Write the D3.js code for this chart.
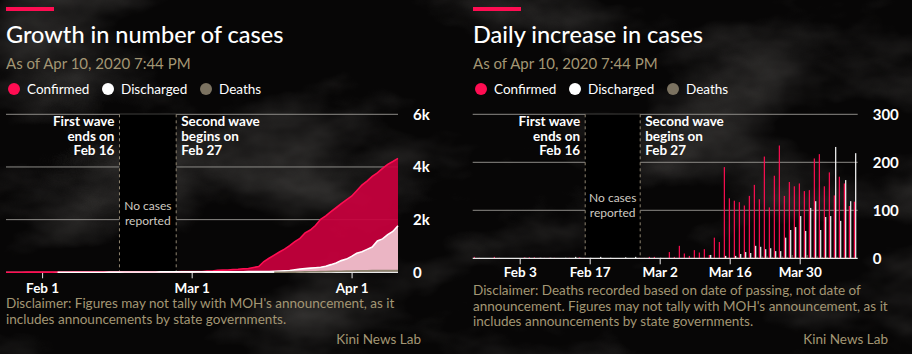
<!DOCTYPE html>
<html>
<head>
<meta charset="utf-8">
<script src="https://cdn.jsdelivr.net/npm/d3@7"></script>
<style>
  body { margin: 0; background: #0b0a09; }
  svg { display: block; font-family: Lato, "Open Sans", sans-serif; }
</style>
</head>
<body>
<svg id="chart" width="912" height="354"></svg>
<script>
// days covered by both charts: Jan 25 .. Apr 10, 2020
const days = d3.utcDay.range(new Date(Date.UTC(2020, 0, 25)), new Date(Date.UTC(2020, 3, 11)));

// daily new counts, one value per day above
const confirmedDaily = [
  3, 1, 0, 0, 3, 1, 0, 0, 0, 0, 2, 2, 2, 1, 1, 1, 1, 0, 0, 1, 0, 2, 1,
  0, 0, 0, 0, 0, 0, 0, 0, 0, 0,
  1, 1, 3, 3, 0, 0, 13, 3, 26, 10, 5, 17, 12, 19, 7, 43, 34,
  190, 125, 120, 117, 110, 130, 153, 123, 212, 106, 172, 235, 130, 159, 150, 156,
  140, 142, 208, 217, 150, 179, 131, 170, 156, 109, 118
];
const dischargedDaily = [
  0, 0, 0, 0, 0, 0, 0, 0, 0, 0, 1, 0, 0, 1, 0, 1, 0, 0, 1, 0, 3, 1, 0,
  1, 0, 3, 0, 1, 0, 0, 2, 0, 3,
  0, 0, 0, 0, 1, 0, 0, 0, 0, 0, 0, 0, 0, 0, 7, 0, 0,
  5, 0, 5, 9, 13, 11, 26, 24, 19, 21, 15, 15, 43, 59, 65, 88,
  57, 105, 119, 59, 86, 88, 232, 78, 163, 119, 219
];
const deathsDaily = [
  0, 0, 0, 0, 0, 0, 0, 0, 0, 0, 0, 0, 0, 0, 0, 0, 0, 0, 0, 0, 0, 0, 0,
  0, 0, 0, 0, 0, 0, 0, 0, 0, 0,
  0, 0, 0, 0, 0, 0, 0, 0, 0, 0, 0, 0, 0, 0, 0, 0, 0,
  0, 0, 2, 0, 1, 2, 3, 4, 4, 3, 3, 4, 3, 7, 2, 3,
  7, 3, 4, 3, 3, 2, 3, 1, 2, 1, 0
];

const seriesNames = ["Confirmed", "Discharged", "Deaths"];
const seriesColors = ["#ff0d52", "#ffffff", "#7b7260"];

const growthTicks = [0, 2000, 4000, 6000];
const dailyTicks = [0, 100, 200, 300];
const growthDateTicks = [new Date(Date.UTC(2020, 1, 1)), new Date(Date.UTC(2020, 2, 1)), new Date(Date.UTC(2020, 3, 1))];
const dailyDateTicks = [3, 17, 2, 16, 30].map((d, i) => new Date(Date.UTC(2020, i < 2 ? 1 : 2, d)));
const waveEnd = new Date(Date.UTC(2020, 1, 16));
const waveStart = new Date(Date.UTC(2020, 1, 27));

const tan = "#a39674";
const svg = d3.select("#chart");

// smoky backdrop
const defs = svg.append("defs");
const smoke = defs.append("filter").attr("id", "smoke").attr("x", 0).attr("y", 0).attr("width", 1).attr("height", 1);
smoke.append("feTurbulence").attr("type", "fractalNoise").attr("baseFrequency", "0.005 0.009")
  .attr("numOctaves", 5).attr("seed", 11);
smoke.append("feColorMatrix").attr("type", "matrix")
  .attr("values", "0 0 0 0 0.8  0 0 0 0 0.77  0 0 0 0 0.72  2.6 0 0 0 -1.3");
svg.append("rect").attr("width", 912).attr("height", 354).attr("fill", "#070606");
svg.append("rect").attr("width", 912).attr("height", 354).attr("filter", "url(#smoke)").attr("opacity", 0.22);

function header(g, title, subtitle) {
  g.append("rect").attr("x", 6).attr("y", 7).attr("width", 48).attr("height", 4).attr("fill", seriesColors[0]);
  g.append("text").attr("x", 6).attr("y", 43).attr("fill", "#fff")
    .attr("font-size", 23.5).attr("font-weight", 500).text(title);
  g.append("text").attr("x", 6).attr("y", 69).attr("fill", tan)
    .attr("font-size", 15).text(subtitle);
  const legendX = [14, 108, 206];
  const lg = g.selectAll("g.legend").data(seriesNames).join("g").attr("class", "legend")
    .attr("transform", (d, i) => `translate(${legendX[i]},89)`);
  lg.append("circle").attr("r", 6).attr("fill", (d, i) => seriesColors[i]);
  lg.append("text").attr("x", 13).attr("y", 5).attr("fill", "#fff").attr("font-size", 13.5).text(d => d);
}

function waveNotes(g, xEnd, xStart, yTop, yBase, noteY) {
  g.append("rect").attr("x", xEnd).attr("y", yTop).attr("width", xStart - xEnd)
    .attr("height", yBase - yTop).attr("fill", "#000");
  g.selectAll("line.wave").data([xEnd, xStart]).join("line").attr("class", "wave")
    .attr("x1", d => d).attr("x2", d => d).attr("y1", yTop).attr("y2", yBase)
    .attr("stroke", "#8f8470").attr("stroke-dasharray", "3,3");
  const t1 = g.append("text").attr("text-anchor", "end").attr("fill", "#fff")
    .attr("font-size", 13.5).attr("font-weight", 700);
  ["First wave", "ends on", "Feb 16"].forEach((s, i) =>
    t1.append("tspan").attr("x", xEnd - 5).attr("y", 126 + i * 14.7).text(s));
  const t2 = g.append("text").attr("fill", "#fff").attr("font-size", 13.5).attr("font-weight", 700);
  ["Second wave", "begins on", "Feb 27"].forEach((s, i) =>
    t2.append("tspan").attr("x", xStart + 5).attr("y", 126 + i * 14.7).text(s));
  const t3 = g.append("text").attr("text-anchor", "middle").attr("fill", "#cfcac0").attr("font-size", 12);
  ["No cases", "reported"].forEach((s, i) =>
    t3.append("tspan").attr("x", (xEnd + xStart) / 2).attr("y", noteY + i * 15).text(s));
}

function footer(g, lines, creditY, creditX) {
  const t = g.append("text").attr("fill", tan).attr("font-size", 13.5);
  lines.forEach((s, i) => t.append("tspan").attr("x", 6).attr("y", lines.y0 + i * 15.5).text(s));
  g.append("text").attr("x", creditX).attr("y", creditY).attr("text-anchor", "end")
    .attr("fill", tan).attr("font-size", 13.5).text("Kini News Lab");
}

// ---------- left: cumulative growth ----------
{
  const g = svg.append("g");
  header(g, "Growth in number of cases", "As of Apr 10, 2020 7:44 PM");

  const x = d3.scaleUtc().domain([days[0], days[days.length - 1]]).range([6, 398]);
  const y = d3.scaleLinear().domain([0, 6000]).range([272.3, 114.3]);

  g.selectAll("line.grid").data(growthTicks.slice(1)).join("line").attr("class", "grid")
    .attr("x1", 6).attr("x2", 398).attr("y1", d => y(d)).attr("y2", d => y(d))
    .attr("stroke", "#8c8a86");
  waveNotes(g, x(waveEnd), x(waveStart), y(6000), y(0), 210);

  const cum = [confirmedDaily, dischargedDaily, deathsDaily].map(a => Array.from(d3.cumsum(a)));
  const fills = ["#c8003d", "#efc3cf", "#7b7260"];
  cum.forEach((vals, i) => {
    const pts = days.map((d, j) => [d, vals[j]]);
    const area = d3.area().defined(p => p[1] > 0).x(p => x(p[0])).y0(y(0)).y1(p => y(p[1]));
    g.append("path").attr("d", area(pts)).attr("fill", fills[i]).attr("fill-opacity", 0.93);
  });

  const ax = g.append("g").attr("transform", `translate(0,${y(0)})`)
    .call(d3.axisBottom(x).tickValues(growthDateTicks).tickFormat(d3.utcFormat("%b %-d")).tickSize(6).tickPadding(5));
  ax.select(".domain").remove();
  ax.selectAll("line").attr("stroke", "#e8e8e8");
  ax.selectAll("text").attr("fill", "#fff").attr("font-size", 13.5).attr("font-weight", 700)
    .attr("font-family", "Lato, sans-serif");
  g.append("line").attr("x1", 6).attr("x2", 398).attr("y1", y(0)).attr("y2", y(0))
    .attr("stroke", "#e8e8e8").attr("stroke-width", 1.2);
  // outline strokes drawn over the baseline so near-zero values still show
  cum.forEach((vals, i) => {
    const pts = days.map((d, j) => [d, vals[j]]);
    const line = d3.line().defined(p => p[1] > 0).x(p => x(p[0])).y(p => y(p[1]));
    g.append("path").attr("d", line(pts)).attr("fill", "none")
      .attr("stroke", i === 2 ? "#8a806b" : seriesColors[i]).attr("stroke-width", 1.6);
  });

  const ay = g.append("g").attr("transform", "translate(413,0)")
    .call(d3.axisRight(y).tickValues(growthTicks).tickFormat(d => d ? d / 1000 + "k" : "0").tickSize(0).tickPadding(0));
  ay.select(".domain").remove();
  ay.selectAll("text").attr("fill", "#fff").attr("font-size", 15).attr("font-weight", 700)
    .attr("font-family", "Lato, sans-serif");

  const lines = ["Disclaimer: Figures may not tally with MOH's announcement, as it",
    "includes announcements by state governments."];
  lines.y0 = 308;
  footer(g, lines, 344, 421);
}

// ---------- right: daily increase ----------
{
  const g = svg.append("g");
  const hg = g.append("g").attr("transform", "translate(467,0)");
  header(hg, "Daily increase in cases", "As of Apr 10, 2020 7:44 PM");

  const x = d3.scaleBand().domain(days).range([472.7, 857.7]);
  const x1 = d3.scaleBand().domain(seriesNames).range([0.9, 5.1]).padding(0.12);
  const y = d3.scaleLinear().domain([0, 300]).range([258.3, 114.3]);
  const mid = d => x(d) + x.bandwidth() / 2;

  g.selectAll("line.grid").data(dailyTicks.slice(1)).join("line").attr("class", "grid")
    .attr("x1", 472.7).attr("x2", 857.7).attr("y1", d => y(d)).attr("y2", d => y(d))
    .attr("stroke", "#8c8a86");
  waveNotes(g, mid(waveEnd), mid(waveStart), y(300), y(0), 202);

  const rows = days.map((d, j) => [d, [confirmedDaily[j], dischargedDaily[j], deathsDaily[j]]]);
  const dayG = g.selectAll("g.day").data(rows).join("g").attr("class", "day")
    .attr("transform", r => `translate(${x(r[0])},0)`);
  dayG.selectAll("rect").data(r => r[1].map((v, i) => ({ v, i }))).join("rect")
    .attr("x", d => x1(seriesNames[d.i])).attr("width", x1.bandwidth())
    .attr("y", d => y(d.v)).attr("height", d => y(0) - y(d.v))
    .attr("fill", d => seriesColors[d.i]);

  const ax = g.append("g").attr("transform", `translate(0,${y(0)})`)
    .call(d3.axisBottom(x).tickValues(dailyDateTicks.map(t => days.find(d => +d === +t)))
      .tickFormat(d3.utcFormat("%b %-d")).tickSize(6).tickPadding(3));
  ax.select(".domain").remove();
  ax.selectAll("line").attr("stroke", "#e8e8e8");
  ax.selectAll("text").attr("fill", "#fff").attr("font-size", 13.5).attr("font-weight", 700)
    .attr("font-family", "Lato, sans-serif");
  g.append("line").attr("x1", 472.7).attr("x2", 857.7).attr("y1", y(0)).attr("y2", y(0))
    .attr("stroke", "#e8e8e8").attr("stroke-width", 1.2);

  const ay = g.append("g").attr("transform", "translate(872.7,0)")
    .call(d3.axisRight(y).tickValues(dailyTicks).tickSize(0).tickPadding(0));
  ay.select(".domain").remove();
  ay.selectAll("text").attr("fill", "#fff").attr("font-size", 15).attr("font-weight", 700)
    .attr("font-family", "Lato, sans-serif");

  const fg = g.append("g").attr("transform", "translate(467,0)");
  const lines = ["Disclaimer: Deaths recorded based on date of passing, not date of",
    "announcement. Figures may not tally with MOH's announcement, as it",
    "includes announcements by state governments."];
  lines.y0 = 295;
  footer(fg, lines, 344, 421);
}
</script>
</body>
</html>
